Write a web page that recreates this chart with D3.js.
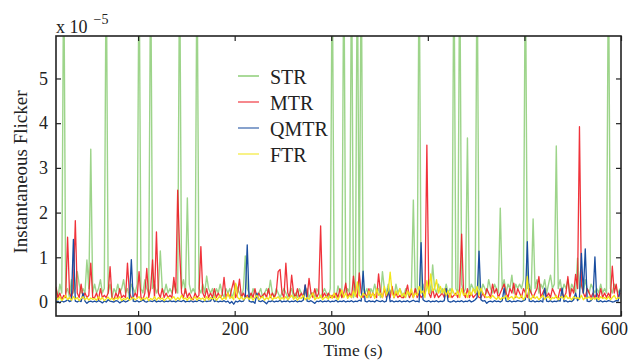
<!DOCTYPE html>
<html><head><meta charset="utf-8">
<script src="https://cdn.jsdelivr.net/npm/d3@7"></script>
<style>body{margin:0;background:#fff}svg{display:block}text{font-family:"Liberation Serif","DejaVu Serif",serif;fill:#222}</style>
</head><body><svg id="c" width="631" height="360"></svg>
<script>
// sampling grid (s): first sample and spacing of the recorded series
const tStart = 15, tStep = 2;
const xTicks = [100, 200, 300, 400, 500, 600];
const yTicks = [0, 1, 2, 3, 4, 5];
const seriesNames = ["STR", "MTR", "QMTR", "FTR"];

// values in units of 1e-5, one per sample
const STR = [
0.3,0.1,0.4,0.2,8,0.2,0.3,0.1,0.5,0.2,0.3,0.68,0.4,0.2,0.3,0.2,0.94,0.3,3.42,0.2,
0.4,0.2,0.3,0.5,0.2,0.3,8,0.2,0.4,0.1,0.3,0.2,0.4,0.2,0.3,0.5,0.2,0.3,0.1,0.4,
0.3,0.2,0.4,8,0.3,0.2,0.5,0.3,0.2,8,0.3,0.4,0.2,0.3,1.14,0.3,0.2,0.4,0.2,0.3,
0.2,0.4,0.3,0.2,8,0.3,0.5,0.2,2.33,0.4,0.2,0.3,0.2,8,0.3,0.2,0.4,0.2,0.58,0.3,
0.2,0.3,0.1,0.3,0.2,0.4,0.2,0.1,0.3,0.2,0.3,0.1,0.2,0.4,0.3,0.2,0.1,0.3,1.03,0.3,
0.2,0.1,0.3,0.2,0.1,0.2,0.3,0.1,0.2,0.3,0.2,0.49,0.2,0.1,0.3,0.2,0.1,0.2,0.3,0.2,
0.1,0.2,0.3,0.1,0.2,0.1,0.3,0.2,0.1,0.2,0.3,0.1,0.2,0.2,0.1,0.3,0.2,0.1,0.2,0.3,
0.2,0.1,0.3,8,0.2,0.1,0.36,0.2,0.1,8,0.2,0.3,0.2,8,0.1,0.3,8,0.2,8,0.3,
0.2,0.3,0.1,0.3,0.2,0.4,0.2,0.3,0.1,0.68,0.3,0.2,0.4,0.2,0.3,0.1,0.4,0.2,0.3,0.2,
0.1,0.3,0.2,0.1,0.3,2.28,0.2,0.3,8,0.2,0.4,0.2,0.3,0.5,0.2,0.83,0.3,0.2,0.4,0.2,
0.3,0.2,0.4,0.2,0.3,0.2,8,0.3,0.2,8,0.4,0.2,0.3,3.67,0.2,0.4,0.3,0.2,8,0.3,
0.2,0.4,0.3,0.2,0.5,0.3,0.2,0.4,0.3,0.2,2.1,0.3,0.5,0.2,0.4,0.3,0.6,0.2,0.4,0.3,
0.4,0.3,0.5,8,0.3,0.4,0.2,1.86,0.3,0.5,0.2,0.4,0.3,0.5,0.2,0.4,0.6,0.3,0.4,3.49,
0.3,0.5,0.2,0.4,0.3,0.5,0.2,0.4,0.3,0.2,0.98,0.3,0.4,0.2,0.5,0.3,0.2,0.4,0.3,0.2,
0.3,0.2,0.4,0.2,0.3,0.2,8,0.3,0.2,0.4,0.3,0.2,0.3
];
const MTR = [
0.34,0.1,0.2,0.05,0.15,0.1,1.45,0.2,0.1,0.3,1.82,0.2,0.1,0.4,0.1,0.2,0.1,0.15,0.87,0.1,
0.1,0.2,0.05,0.3,0.1,0.15,0.1,0.2,0.79,0.1,0.05,0.2,0.1,0.3,0.1,0.15,0.1,0.87,0.2,0.1,
0.1,0.2,0.1,0.68,0.1,0.05,0.2,0.75,0.1,0.3,0.94,0.1,1.57,0.2,0.1,0.3,0.1,0.2,0.1,0.15,
0.1,0.55,0.2,2.5,1.16,0.2,0.1,0.3,0.1,0.2,0.1,0.05,0.2,0.1,0.15,1.24,0.2,0.1,0.3,0.1,
0.2,0.1,0.3,0.1,0.2,0.1,0.15,0.55,0.1,0.2,0.1,0.3,0.48,0.1,0.2,0.51,0.1,0.2,0.1,0.15,
0.1,0.2,0.1,0.3,0.1,0.2,0.1,0.15,0.2,0.1,0.3,0.1,0.2,0.1,0.2,0.68,0.73,0.2,0.1,0.87,
0.2,0.1,0.6,0.2,0.1,0.3,0.1,0.2,0.1,0.38,0.1,0.53,0.2,0.1,0.3,0.1,0.2,1.7,0.1,0.2,
0.1,0.2,0.1,0.15,0.1,0.2,0.1,0.3,0.1,0.2,0.42,0.1,0.2,0.1,0.58,0.2,0.1,0.65,0.2,0.1,
0.2,0.1,0.3,0.1,0.2,0.15,0.1,0.63,0.2,0.1,0.3,0.1,0.2,0.1,0.35,0.1,0.2,0.1,0.15,0.1,
0.1,0.2,0.38,0.1,0.2,0.1,0.3,0.1,0.2,0.1,0.15,0.2,3.51,0.2,0.1,0.3,0.1,0.2,0.1,0.15,
0.2,0.1,0.3,0.1,0.2,0.1,0.15,0.2,0.1,0.3,1.52,0.2,0.1,0.3,0.1,0.2,0.1,0.15,0.2,0.1,
0.1,0.2,0.1,0.3,0.2,0.1,0.4,0.2,0.3,0.1,0.2,0.3,0.4,0.2,0.1,0.3,0.2,0.42,0.1,0.3,
0.2,0.1,0.3,0.2,0.1,0.3,0.2,0.1,0.2,0.3,0.57,0.1,0.2,0.3,0.1,0.2,0.1,0.3,0.2,0.1,
0.1,0.3,0.2,0.1,0.2,0.57,0.1,0.3,0.2,0.62,0.3,3.92,0.4,0.2,0.1,0.3,0.2,0.1,0.2,0.1,
0.2,0.1,0.3,0.1,0.2,0.1,0.2,0.1,0.8,0.2,0.4,0.1,0.2
];
const QMTR = [
0,0.02,-0.02,0.03,0,0.02,0.05,0.01,0.03,1.4,0.02,0,0.03,0.01,0.2,0.02,-0.03,0.01,0.02,0,
0.02,0,0.03,0.01,-0.02,0.02,0,0.05,0.02,0.01,0,0.03,0.02,-0.02,0.01,0.03,0,0.02,0.05,0.95,
0.02,0.01,0.03,0,0.02,0.05,0.01,0,0.03,0.02,0.01,0.04,0,0.02,0.01,0.03,0,0.02,0.01,0.03,
0.01,0.02,0,0.03,0.02,0.01,0.04,0,0.02,0.01,0.03,0,0.02,0.01,0.04,0.02,0,0.03,0.01,0.02,
0.02,0.1,0.01,0.03,0,0.02,0.01,0.03,0,0.02,-0.03,0.01,-0.05,0.02,0,0.03,0.01,0.02,0.1,1.28,
0.02,0,0.01,-0.03,0.2,0.02,0.01,0.03,0,-0.04,0.02,0.01,0.03,0,0.02,0.01,0.04,0,0.02,0.01,
0.03,0,0.02,0.01,0.03,0,0.02,0.01,0.04,0.38,0.02,0.01,0.03,0,-0.03,0.02,0.01,0.03,0,0.02,
0.01,0.03,0,0.02,0.01,0.04,0,0.02,0.01,0.03,0,0.02,0.01,0.03,0,0.02,0.01,0.04,0.02,0.69,
0.02,0,0.03,0.01,0.02,0,0.04,0.02,0.01,0.03,0,0.02,0.3,0.01,0.03,0,0.02,0.01,0.03,0,
0.02,0.01,0.03,0,0.02,0.04,0.01,0.02,0,1.33,0.05,0.02,0.01,0.03,0,0.02,0.01,0.03,0,0.02,
0.01,0.03,0.3,0.02,0,0.01,0.03,0,0.02,0.01,0.03,0,0.02,0.01,0.04,0,0.02,0.05,0.1,1.14,
0.05,0.02,0.03,-0.03,0.01,0.02,0,0.03,0.01,0.02,0,0.03,0.31,0.02,0.01,0.03,0,0.02,0.01,0.03,
0.02,0.01,0.03,0.05,1.35,0.02,0.01,0.03,0,0.02,0.01,0.03,0,0.31,0.02,0.01,0.03,0,0.02,0.01,
0.03,0.02,0.31,0.01,0.03,0,0.02,0.01,0.05,0.2,0.03,0.1,1.09,0.2,1.19,0.02,0.01,0.03,0.1,1.01,
0.02,0.01,0.03,0,0.02,0.01,0.03,0.02,0,0.01,0.03,0.02,0.27
];
const FTR = [
0.1,0.05,0.12,0.03,0.08,0.15,0.05,0.1,0.04,0.12,0.06,0.1,0.03,0.08,0.12,0.05,0.1,0.04,0.09,0.06,
0.08,0.04,0.12,0.05,0.1,0.03,0.07,0.11,0.05,0.09,0.04,0.1,0.06,0.12,0.03,0.08,0.05,0.1,0.04,0.07,
0.1,0.05,0.08,0.12,0.04,0.09,0.06,0.11,0.03,0.08,0.05,0.12,0.04,0.1,0.06,0.09,0.03,0.07,0.11,0.05,
0.08,0.12,0.04,0.1,0.05,0.15,0.06,0.09,0.04,0.11,0.05,0.08,0.12,0.04,0.1,0.06,0.09,0.03,0.12,0.05,
0.1,0.06,0.12,0.04,0.09,0.15,0.05,0.1,0.06,0.2,0.08,0.12,0.05,0.42,0.1,0.06,0.12,0.05,0.09,0.11,
0.06,0.12,0.04,0.1,0.15,0.05,0.09,0.12,0.04,0.1,0.06,0.15,0.05,0.1,0.08,0.12,0.05,0.1,0.06,0.12,
0.05,0.1,0.15,0.06,0.12,0.04,0.1,0.08,0.15,0.05,0.1,0.06,0.12,0.2,0.05,0.1,0.08,0.15,0.05,0.1,
0.12,0.06,0.15,0.08,0.2,0.1,0.05,0.15,0.27,0.1,0.2,0.08,0.15,0.1,0.25,0.12,0.45,0.15,0.1,0.2,
0.15,0.1,0.25,0.12,0.2,0.08,0.3,0.15,0.2,0.1,0.35,0.15,0.25,0.67,0.2,0.1,0.25,0.15,0.3,0.12,
0.2,0.1,0.25,0.15,0.3,0.1,0.2,0.15,0.35,0.2,0.25,0.1,0.48,0.2,0.63,0.25,0.3,0.5,0.2,0.35,
0.2,0.3,0.15,0.25,0.1,0.3,0.2,0.15,0.25,0.1,0.3,0.15,0.2,0.1,0.25,0.15,0.3,0.2,0.35,0.15,
0.31,0.2,0.15,0.1,0.12,0.08,0.15,0.1,0.06,0.12,0.05,0.1,0.08,0.15,0.05,0.1,0.12,0.06,0.15,0.1,
0.08,0.15,0.05,0.12,0.57,0.1,0.06,0.15,0.08,0.12,0.05,0.1,0.15,0.06,0.1,0.12,0.05,0.1,0.08,0.15,
0.05,0.1,0.12,0.06,0.15,0.08,0.1,0.05,0.12,0.08,0.1,0.06,0.15,0.05,0.1,0.08,0.12,0.05,0.1,0.06,
0.1,0.05,0.12,0.08,0.1,0.06,0.12,0.05,0.1,0.15,0.06,0.1,0.08
];

const colors = {STR:"#5cb83c", MTR:"#ee1c25", QMTR:"#1a4ea0", FTR:"#f2e61a"};
const opac = {STR:0.6, MTR:0.9, QMTR:1, FTR:1};
const dataBy = {STR, MTR, QMTR, FTR};

const svg = d3.select("#c");
const L = 56, R = 621, T = 36, B = 316;
const x = d3.scaleLinear().domain([15, 600]).range([L, R]);
const y = d3.scaleLinear().domain([-0.313, 5.95]).range([B, T]);

svg.append("defs").append("clipPath").attr("id","clip")
  .append("rect").attr("x",L).attr("y",T).attr("width",R-L).attr("height",B-T);

const line = d3.line().x(d => x(d[0])).y(d => y(d[1]));
const g = svg.append("g").attr("clip-path","url(#clip)");
seriesNames.forEach(n => {
  const pts = dataBy[n].map((v,i) => [tStart + tStep*i, v]);
  g.append("path").datum(pts).attr("d", line)
    .attr("fill","none").attr("stroke", colors[n])
    .attr("stroke-opacity", opac[n]).attr("stroke-width", n==="STR"?1.4:1.3)
    .attr("stroke-linejoin","round");
});

// axes
const ax = svg.append("g");
const xb = ax.append("g").attr("transform",`translate(0,${B})`)
  .call(d3.axisBottom(x).tickValues(xTicks).tickSize(-5).tickPadding(6).tickFormat(d3.format("d")));
ax.append("g").attr("transform",`translate(0,${T})`)
  .call(d3.axisTop(x).tickValues(xTicks).tickSize(-5).tickFormat(""));
ax.append("g").attr("transform",`translate(${L},0)`)
  .call(d3.axisLeft(y).tickValues(yTicks).tickSize(-5).tickPadding(8).tickFormat(d3.format("d")));
ax.append("g").attr("transform",`translate(${R},0)`)
  .call(d3.axisRight(y).tickValues(yTicks).tickSize(-5).tickFormat(""));
ax.selectAll(".domain").remove();
ax.selectAll(".tick line").attr("stroke","#222").attr("stroke-width",1.2);
ax.selectAll(".tick text").attr("font-size",18).attr("font-family","Liberation Serif").attr("fill","#222");
xb.selectAll(".tick text").filter(d => d === 600).attr("dx", -7);
svg.append("rect").attr("x",L).attr("y",T).attr("width",R-L).attr("height",B-T)
  .attr("fill","none").attr("stroke","#222").attr("stroke-width",1.6);

// labels
svg.append("text").attr("x",353).attr("y",355.5).attr("text-anchor","middle")
  .attr("font-size",17.5).text("Time (s)");
svg.append("text").attr("transform","translate(27,172) rotate(-90)").attr("text-anchor","middle")
  .attr("font-size",19).text("Instantaneous Flicker");
const ex = svg.append("text").attr("x",56).attr("y",33).attr("font-size",18);
ex.append("tspan").text("x 10");
ex.append("tspan").attr("dx",6).attr("dy",-9).attr("font-size",14).text("\u22125");

// legend
const lg = svg.append("g");
const legY = [76, 102, 128, 154];
seriesNames.forEach((n,i) => {
  lg.append("line").attr("x1",238).attr("x2",259).attr("y1",legY[i]).attr("y2",legY[i])
    .attr("stroke",colors[n]).attr("stroke-opacity",0.75).attr("stroke-width",1.4);
  lg.append("text").attr("x",270).attr("y",legY[i]+8).attr("font-size",20).text(n);
});
</script></body></html>
